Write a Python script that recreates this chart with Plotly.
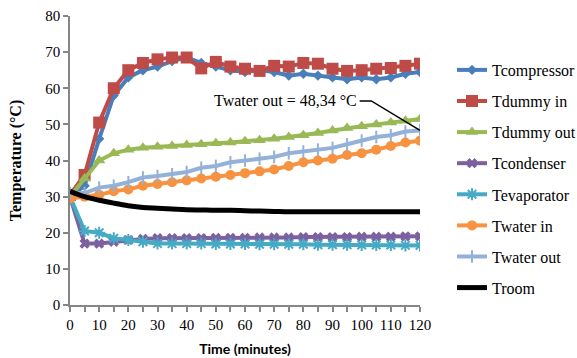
import plotly.graph_objects as go

time_min = [0, 5, 10, 15, 20, 25, 30, 35, 40, 45, 50, 55, 60, 65, 70, 75, 80, 85, 90, 95, 100, 105, 110, 115, 120]

t_compressor = [30, 33, 46, 58, 63, 65, 66, 67.5, 68.5, 67, 66, 65, 64.5, 65, 64.5, 63.5, 64, 63.5, 63, 62.5, 63, 62.5, 63, 64, 64.5]
t_dummy_in = [30.5, 36, 50.5, 60, 65, 67, 68, 68.5, 68.5, 65.5, 67.3, 66, 65.4, 64.8, 66.2, 66, 67, 66.8, 65.4, 64.8, 65, 65.4, 65.6, 66.2, 66.8]
t_dummy_out = [30, 35, 40, 42, 43, 43.5, 43.8, 44, 44.3, 44.5, 44.8, 45, 45.3, 45.6, 46, 46.5, 47, 47.6, 48.3, 49, 49.5, 50, 50.5, 51, 51.5]
t_condenser = [30, 17, 17, 17.5, 18, 18.3, 18.5, 18.5, 18.5, 18.5, 18.6, 18.6, 18.6, 18.7, 18.7, 18.7, 18.8, 18.8, 18.8, 18.8, 18.9, 18.9, 18.9, 19, 19]
t_evaporator = [30, 20.5, 20, 18.5, 18, 17.5, 17, 17, 17, 17, 16.9, 16.9, 16.9, 16.8, 16.8, 16.8, 16.8, 16.7, 16.7, 16.7, 16.6, 16.6, 16.6, 16.5, 16.5]
t_water_in = [29.5, 30, 30.5, 31.5, 32, 33, 33.5, 34, 34.5, 35, 35.5, 36, 36.5, 37, 37.5, 38.5, 39.5, 40, 40.5, 41.5, 42, 43, 44, 45, 45.5]
t_water_out = [31, 31, 32.5, 33, 34, 35.3, 35.7, 36.2, 36.8, 38, 38.5, 39.5, 40, 40.5, 41, 42, 42.5, 43, 43.5, 44.5, 45.5, 46.5, 47, 48, 48.34]
t_room = [31.5, 30, 29, 28.2, 27.5, 27, 26.8, 26.6, 26.4, 26.3, 26.2, 26.2, 26.1, 26, 25.9, 25.8, 25.8, 25.8, 25.8, 25.8, 25.8, 25.8, 25.8, 25.8, 25.8]

x_ticks = list(range(0, 121, 10))
y_ticks = list(range(0, 81, 10))
annotation_text = "Twater out = 48,34 °C"

series = [
    ("Tcompressor", t_compressor, "#4A7EBB", dict(symbol="diamond", size=8)),
    ("Tdummy in", t_dummy_in, "#BE4B48", dict(symbol="square", size=12)),
    ("Tdummy out", t_dummy_out, "#98B954", dict(symbol="triangle-up", size=11)),
    ("Tcondenser", t_condenser, "#7D60A0", dict(symbol="x", size=9)),
    ("Tevaporator", t_evaporator, "#46AAC5", dict(symbol="asterisk-open", size=10, line=dict(width=2, color="#46AAC5"))),
    ("Twater in", t_water_in, "#F69240", dict(symbol="circle", size=10)),
    ("Twater out", t_water_out, "#94B1D8", dict(symbol="line-ns-open", size=9, line=dict(width=2, color="#94B1D8"))),
]

fig = go.Figure()
for i, (name, vals, color, marker) in enumerate(series):
    fig.add_trace(go.Scatter(
        x=time_min, y=vals, name=name, mode="lines+markers",
        line=dict(color=color, width=4),
        marker=dict(color=color, **marker),
        legendgroup=name,
    ))
fig.add_trace(go.Scatter(
    x=time_min, y=t_room, name="Troom", mode="lines",
    line=dict(color="black", width=5, shape="spline"),
    legendgroup="Troom",
))

serif = "Liberation Serif, Times New Roman, serif"

fig.add_annotation(
    x=99, y=56.5, xref="x", yref="y", text=annotation_text,
    showarrow=False, xanchor="right", yanchor="middle",
    font=dict(family=serif, size=16, color="black"),
)
fig.add_shape(
    type="path", xref="x", yref="y",
    path=f"M 99.3,56.5 L 103.3,56.5 L {time_min[-1]},{t_water_out[-1]}",
    line=dict(color="black", width=1.5),
)

axis_color = "#868686"
fig.update_layout(
    width=577, height=358,
    margin=dict(l=70, r=157, t=16, b=53),
    paper_bgcolor="white", plot_bgcolor="white",
    showlegend=True,
    legend=dict(
        xref="container", yref="container",
        x=0.7834, xanchor="left", y=0.852, yanchor="top",
        maxheight=340,
        font=dict(family=serif, size=16, color="black"),
        traceorder="grouped", tracegroupgap=7.3,
        bgcolor="rgba(0,0,0,0)",
    ),
    xaxis=dict(
        range=[0, 120], tickvals=x_ticks, ticktext=[str(v) for v in x_ticks],
        showgrid=False, zeroline=False, automargin=False,
        showline=True, linecolor=axis_color, linewidth=1.5,
        ticks="outside", ticklen=5, tickcolor=axis_color, tickwidth=1.5,
        minor=dict(dtick=5, ticks="outside", ticklen=5, tickcolor=axis_color, tickwidth=1.5),
        tickfont=dict(family=serif, size=15, color="black"),
        title=dict(text="<b>Time (minutes)</b>", standoff=12,
                   font=dict(family="Lato, Open Sans, sans-serif", size=14, color="black")),
    ),
    yaxis=dict(
        range=[0, 80], tickvals=y_ticks, ticktext=[str(v) for v in y_ticks],
        showgrid=False, zeroline=False, automargin=False,
        showline=True, linecolor=axis_color, linewidth=1.5,
        ticks="outside", ticklen=5, tickcolor=axis_color, tickwidth=1.5,
        tickfont=dict(family=serif, size=15, color="black"),
        title=dict(text="<b>Temperature (°C)</b>", standoff=20,
                   font=dict(family=serif, size=16, color="black")),
    ),
)

fig.write_html("out.html", config={"displayModeBar": False},
               post_script="document.body.style.margin='0';")
